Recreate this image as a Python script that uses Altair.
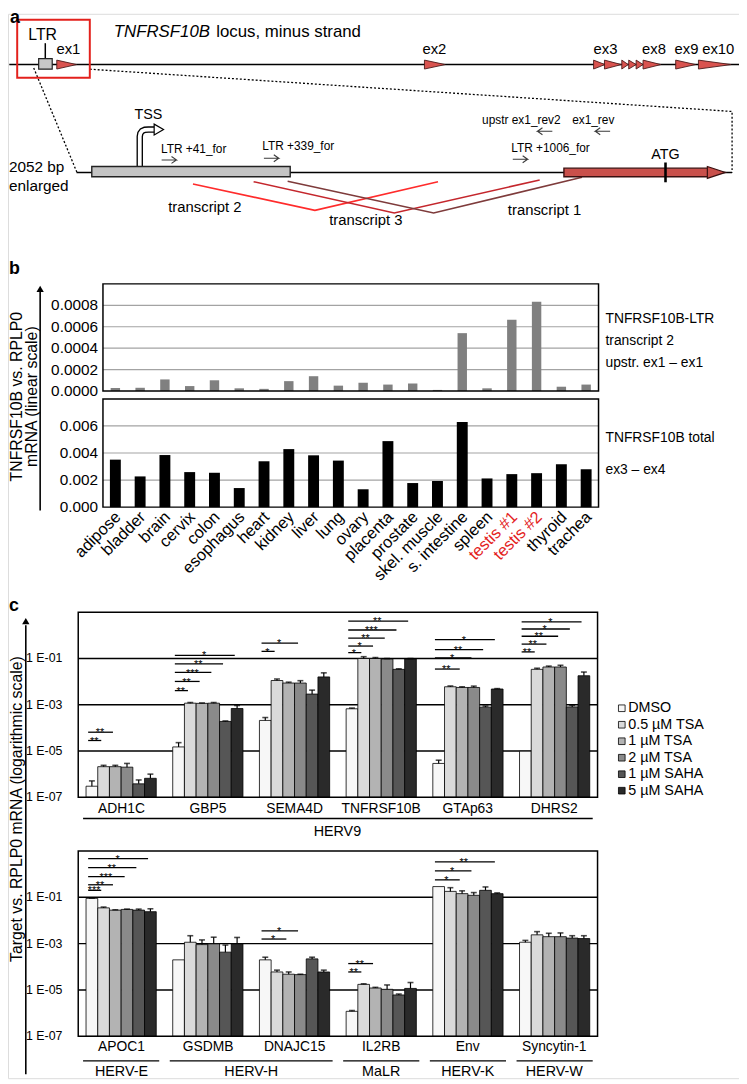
import altair as alt
import pandas as pd

FONT = "Liberation Sans, Arial, Helvetica, sans-serif"
W, H = 739, 1076
OFF = 8


def cx(v):
    return v - OFF


def cy(v):
    return v - OFF


# ------------------------------------------------------------------ panel a (schematic, diagram units)
top_exon_start = [57.3, 429, 600, 611, 628.5, 635.5, 643, 650, 683, 706]
top_exon_end = [77.3, 450, 611.5, 628, 635, 643, 650, 668, 703, 739]
exon_labels = ["ex1", "ex2", "ex3", "ex8", "ex9", "ex10"]
exon_label_x = [69, 439, 612, 661, 694, 726]

tr_names = ["transcript 2", "transcript 3", "transcript 1"]
tr_x = [[195, 318.3, 442.7], [256.3, 398.5, 545.5], [290.7, 438.3, 588.3]]
tr_y = [[180, 206.7, 177.7], [177.7, 209.3, 176], [177.3, 209.3, 173.3]]
tr_colors = ["#ff2b2b", "#c4262c", "#7e3b3b"]

primer_names = ["LTR +41_for", "LTR +339_for", "LTR +1006_for", "upstr ex1_rev2", "ex1_rev"]
primer_x = [162.7, 265, 516.7, 487.3, 578.3]
primer_y = [145, 141.7, 144, 115, 115]
primer_tail = [163.3, 266.7, 518.3, 558.3, 616.7]
primer_head = [178.3, 281.7, 533.3, 543.3, 601.7]
primer_arrow_y = [155.7, 154, 155, 126.7, 126.7]

PXS = alt.Scale(domain=[0, 747], range=[-OFF, 747 - OFF])
PYS = alt.Scale(domain=[0, 1084], range=[-OFF, 1084 - OFF])


def PX(f):
    return alt.X(f, type="quantitative", scale=PXS, axis=None)


def PY(f):
    return alt.Y(f, type="quantitative", scale=PYS, axis=None)


def txt(label, x, y, size=14, align="left", baseline="middle", angle=0,
        color="black", weight="normal", style="normal"):
    return alt.Chart(pd.DataFrame({"t": [label]})).mark_text(
        align=align, baseline=baseline, fontSize=size, angle=angle, color=color,
        fontWeight=weight, fontStyle=style, font=FONT
    ).encode(text="t:N", x=alt.value(cx(x)), y=alt.value(cy(y)))


def vrule(x, y0, y1, color="black", width=1.3):
    return alt.Chart(pd.DataFrame({"a": [0]})).mark_rule(color=color, strokeWidth=width).encode(
        x=alt.value(cx(x)), y=alt.value(cy(y0)), y2=alt.value(cy(y1)))


def frame(x0, x1, y0, y1, color="black", width=1.5):
    return alt.Chart(pd.DataFrame({"a": [0]})).mark_rect(
        fillOpacity=0, stroke=color, strokeWidth=width).encode(
        x=alt.value(cx(x0)), x2=alt.value(cx(x1)), y=alt.value(cy(y0)), y2=alt.value(cy(y1)))


def seg_chart(xs, ys, color="black", width=1.3, dash=None, interp="linear"):
    df = pd.DataFrame({"x": xs, "y": ys, "o": list(range(len(xs)))})
    kw = dict(color=color, strokeWidth=width, interpolate=interp)
    if dash:
        kw["strokeDash"] = dash
    return alt.Chart(df).mark_line(**kw).encode(x=PX("x"), y=PY("y"), order="o:Q")


TOP_Y = 59.3
LOW_Y = 168.3

layers = []

# dotted zoom lines
layers.append(seg_chart([34, 77.7], [62.7, LOW_Y], width=1.3, dash=[2, 2]))
layers.append(seg_chart([90.7, 740, 740], [64, 106.7, LOW_Y], width=1.3, dash=[2, 2]))
# genomic lines
layers.append(seg_chart([9.3, 747], [TOP_Y, TOP_Y], width=1.5))
layers.append(seg_chart([77.3, 740], [LOW_Y, LOW_Y], width=1.5))
# red highlight box
layers.append(frame(17.3, 90.7, 14, 72.7, color="#e3211c", width=2))
layers.append(vrule(45.7, 37.7, 53.3, width=1.5))

# exon triangles on the locus
ex_rows = []
for i, (a, b) in enumerate(zip(top_exon_start, top_exon_end)):
    ex_rows.append({"id": i, "x": a, "ya": TOP_Y - 4.5, "yb": TOP_Y + 4.5})
    ex_rows.append({"id": i, "x": b, "ya": TOP_Y, "yb": TOP_Y})
layers.append(alt.Chart(pd.DataFrame(ex_rows)).mark_area(
    fill="#d9534f", stroke="#4a1a1a", strokeWidth=0.9, orient="vertical").encode(
    x=PX("x"), y=PY("ya"), y2="yb:Q", detail="id:N"))

# small LTR box on locus
layers.append(alt.Chart(pd.DataFrame({"x0": [39], "x1": [52.7], "y0": [53.3], "y1": [64]})).mark_rect(
    fill="#c8c8c8", stroke="#222", strokeWidth=1.2).encode(x=PX("x0"), x2="x1:Q", y=PY("y0"), y2="y1:Q"))

# transcripts
for name, xs_, ys_, col in zip(tr_names, tr_x, tr_y, tr_colors):
    layers.append(seg_chart(xs_, ys_, color=col, width=1.6))

# primer arrows
for t, h, y in zip(primer_tail, primer_head, primer_arrow_y):
    d = 1 if h > t else -1
    layers.append(seg_chart([t, h, h - 5 * d, h, h - 5 * d], [y, y, y - 3.5, y, y + 3.5],
                            color="#3a3a3a", width=1.1))

# TSS bent arrow
tss_x = [141.2, 141.2, 141.8, 143.5, 146.3, 150, 157]
tss_y = [162.3, 132, 128.8, 126.5, 125.2, 125, 125]
layers.append(seg_chart(tss_x, tss_y, color="black", width=6.5))
layers.append(seg_chart(tss_x, tss_y, color="white", width=3.8))
layers.append(alt.Chart(pd.DataFrame({"x": [160.5], "y": [125]})).mark_point(
    shape="triangle-right", size=120, filled=True, fill="white", stroke="black",
    strokeWidth=1.2, opacity=1).encode(x=PX("x"), y=PY("y")))

# enlarged LTR and exon 1
layers.append(alt.Chart(pd.DataFrame({"x0": [92.7], "x1": [293.3], "y0": [162.3], "y1": [172.7]})).mark_rect(
    fill="#c4c4c4", stroke="#222", strokeWidth=1.4).encode(x=PX("x0"), x2="x1:Q", y=PY("y0"), y2="y1:Q"))
layers.append(alt.Chart(pd.DataFrame({"x0": [570], "x1": [716], "y0": [164], "y1": [172.7]})).mark_rect(
    fill="#c9504b", stroke="#3a1010", strokeWidth=1.4).encode(x=PX("x0"), x2="x1:Q", y=PY("y0"), y2="y1:Q"))
big_head = pd.DataFrame({"id": [0, 0], "x": [715, 733.3], "ya": [LOW_Y - 6, LOW_Y], "yb": [LOW_Y + 6, LOW_Y]})
layers.append(alt.Chart(big_head).mark_area(
    fill="#c9504b", stroke="#3a1010", strokeWidth=1.2, orient="vertical").encode(
    x=PX("x"), y=PY("ya"), y2="yb:Q", detail="id:N"))
layers.append(vrule(672.7, 158.3, 178.3, width=2.6))

# texts of panel a
layers.append(txt("a", 10, 17, size=18, weight="bold", baseline="alphabetic"))
layers.append(txt("LTR", 43, 29.3, size=16, align="center"))
layers.append(txt("TNFRSF10B", 115, 26.7, size=17, style="italic"))
layers.append(txt("locus, minus strand", 218.5, 26.7, size=17))
for lab, lx in zip(exon_labels, exon_label_x):
    layers.append(txt(lab, lx, 43.3, size=15, align="center"))
layers.append(txt("TSS", 150, 110, size=14.5, align="center"))
layers.append(txt("ATG", 672.7, 150.7, size=14.5, align="center"))
layers.append(txt("2052 bp", 9, 163.3, size=15.5))
layers.append(txt("enlarged", 9, 181.7, size=15.5))
for lab, lx, ly in zip(primer_names, primer_x, primer_y):
    layers.append(txt(lab, lx, ly, size=12))
layers.append(txt("transcript 2", 170, 203.3, size=15))
layers.append(txt("transcript 3", 332.7, 216, size=15))
layers.append(txt("transcript 1", 513.3, 206.7, size=15))

# ------------------------------------------------------------------ panel b
tissues = ["adipose", "bladder", "brain", "cervix", "colon", "esophagus", "heart", "kidney",
           "liver", "lung", "ovary", "placenta", "prostate", "skel. muscle", "s. intestine",
           "spleen", "testis #1", "testis #2", "thyroid", "trachea"]
ltr_transcript2 = [0.000028, 0.00003, 0.000108, 0.000046, 0.0001, 0.000025, 0.00002, 0.000092,
                   0.000138, 0.00005, 0.000077, 0.00006, 0.00007, 0.00001, 0.00054, 0.000025,
                   0.000665, 0.000834, 0.00004, 0.00006]
total_ex3_ex4 = [0.00351, 0.00227, 0.00385, 0.00259, 0.00254, 0.00141, 0.00339, 0.00429,
                 0.00383, 0.00344, 0.00132, 0.00488, 0.00178, 0.00193, 0.00629, 0.00212,
                 0.00244, 0.00251, 0.00317, 0.0028]
red_tissues = ["testis #1", "testis #2"]
b_top_ticks = [0.0, 0.0002, 0.0004, 0.0006, 0.0008]
b_top_tick_labels = ["0.0000", "0.0002", "0.0004", "0.0006", "0.0008"]
b_bot_ticks = [0.0, 0.002, 0.004, 0.006]
b_bot_tick_labels = ["0.000", "0.002", "0.004", "0.006"]

bdf = pd.DataFrame({"tissue": tissues, "ltr": ltr_transcript2, "total": total_ex3_ex4})
BX0, BX1 = 104, 605
bx_top = alt.Scale(domain=tissues, range=[cx(BX0), cx(BX1)], paddingInner=0.62, paddingOuter=0.31)
bx_bot = alt.Scale(domain=tissues, range=[cx(BX0), cx(BX1)], paddingInner=0.56, paddingOuter=0.28)
by_top = alt.Scale(domain=[0, 0.001], range=[cy(389.3), cy(281)], nice=False, zero=False)
by_bot = alt.Scale(domain=[0, 0.008], range=[cy(506.7), cy(397.3)], nice=False, zero=False)

for ticks, labels, ys in [(b_top_ticks, b_top_tick_labels, by_top), (b_bot_ticks, b_bot_tick_labels, by_bot)]:
    tdf = pd.DataFrame({"v": ticks, "lab": labels})
    layers.append(alt.Chart(tdf[tdf.v > 0]).mark_rule(color="#a3a3a3", strokeWidth=1.2).encode(
        x=alt.value(cx(BX0)), x2=alt.value(cx(BX1)), y=alt.Y("v:Q", scale=ys, axis=None)))
    layers.append(alt.Chart(tdf).mark_text(align="right", baseline="middle", fontSize=15.5, font=FONT).encode(
        x=alt.value(cx(99)), y=alt.Y("v:Q", scale=ys, axis=None), text="lab:N"))

layers.append(alt.Chart(bdf).mark_bar(color="#808080").encode(
    x=alt.X("tissue:N", scale=bx_top, axis=None), y=alt.Y("ltr:Q", scale=by_top, axis=None), y2=alt.datum(0)))
layers.append(alt.Chart(bdf).mark_bar(color="black").encode(
    x=alt.X("tissue:N", scale=bx_bot, axis=None), y=alt.Y("total:Q", scale=by_bot, axis=None), y2=alt.datum(0)))
layers.append(frame(BX0, BX1, 281, 389.3))
layers.append(frame(BX0, BX1, 397.3, 506.7))

red_expr = "indexof(" + str(red_tissues) + ", datum.tissue) >= 0"
for expr, col in [(red_expr, "#e3211c"), ("!(" + red_expr + ")", "black")]:
    layers.append(alt.Chart(bdf).transform_filter(expr).mark_text(
        align="right", baseline="middle", angle=315, fontSize=16.5, dx=4, color=col, font=FONT).encode(
        x=alt.X("tissue:N", scale=bx_bot, axis=None), y=alt.value(cy(517)), text="tissue:N"))

layers.append(txt("b", 9, 271, size=18, weight="bold", baseline="alphabetic"))
layers.append(txt("TNFRSF10B-LTR", 612, 317, size=14))
layers.append(txt("transcript  2", 612, 339, size=14))
layers.append(txt("upstr. ex1 \u2013 ex1", 612, 361, size=14))
layers.append(txt("TNFRSF10B total", 612, 437, size=14))
layers.append(txt("ex3 \u2013 ex4", 612, 469, size=14))
layers.append(txt("TNFRSF10B vs. RPLP0", 17, 395, size=16, align="center", angle=270))
layers.append(txt("mRNA (linear scale)", 32, 395, size=16, align="center", angle=270))
layers.append(vrule(40.5, 510, 289, width=1.6))
layers.append(alt.Chart(pd.DataFrame({"a": [0]})).mark_point(
    shape="triangle-up", size=55, filled=True, color="black", opacity=1).encode(
    x=alt.value(cx(40.5)), y=alt.value(cy(286))))

# ------------------------------------------------------------------ panel c
treatments = ["DMSO", "0.5 \u00b5M TSA", "1 \u00b5M TSA", "2 \u00b5M TSA", "1 \u00b5M SAHA", "5 \u00b5M SAHA"]
treat_colors = ["#f7f7f7", "#dadada", "#b3b3b3", "#8a8a8a", "#565656", "#2a2a2a"]
c_ticks = [1e-7, 1e-5, 1e-3, 1e-1]
c_tick_labels = ["1 E-07", "1 E-05", "1 E-03", "1 E-01"]

genes_herv9 = ["ADH1C", "GBP5", "SEMA4D", "TNFRSF10B", "GTAp63", "DHRS2"]
mean_herv9 = [
    [3.0e-7, 2.1e-6, 2.1e-6, 2.0e-6, 3.8e-7, 6.6e-7],
    [1.5e-5, 1.17e-3, 1.15e-3, 1.17e-3, 1.9e-4, 6.9e-4],
    [2.1e-4, 1.12e-2, 8.7e-3, 8.7e-3, 2.9e-3, 1.6e-2],
    [6.7e-4, 0.1, 0.1, 0.095, 3.4e-2, 0.095],
    [2.9e-6, 6.0e-3, 5.6e-3, 5.6e-3, 7.9e-4, 4.8e-3],
    [9.8e-6, 3.4e-2, 4.3e-2, 4.3e-2, 8.1e-4, 1.8e-2],
]
upper_herv9 = [
    [5.1e-7, 2.4e-6, 2.4e-6, 2.9e-6, 5.6e-7, 1.0e-6],
    [2.3e-5, 1.25e-3, 1.2e-3, 1.25e-3, 2.0e-4, 9.3e-4],
    [2.8e-4, 1.3e-2, 9.5e-3, 1.1e-2, 4.3e-3, 2.4e-2],
    [7.2e-4, 0.12, 0.11, 0.1, 3.6e-2, 0.1],
    [4.0e-6, 6.5e-3, 6.0e-3, 6.4e-3, 8.8e-4, 5.0e-3],
    [9.8e-6, 3.8e-2, 4.7e-2, 5.1e-2, 9.4e-4, 2.6e-2],
]
sig_herv9_gene = ["ADH1C", "ADH1C", "GBP5", "GBP5", "GBP5", "GBP5", "GBP5", "SEMA4D", "SEMA4D",
                  "TNFRSF10B", "TNFRSF10B", "TNFRSF10B", "TNFRSF10B", "TNFRSF10B",
                  "GTAp63", "GTAp63", "GTAp63", "GTAp63",
                  "DHRS2", "DHRS2", "DHRS2", "DHRS2", "DHRS2"]
sig_herv9_k = [1, 2, 1, 2, 3, 4, 5, 1, 3, 1, 2, 3, 4, 5, 2, 3, 4, 5, 1, 2, 3, 4, 5]
sig_herv9_stars = ["**", "**", "**", "**", "***", "**", "*", "*", "*", "*", "*", "**", "***", "**",
                   "**", "*", "**", "*", "**", "**", "**", "*", "*"]
sig_herv9_y = [2.85e-5, 6.5e-5, 4.1e-3, 1.02e-2, 2.5e-2, 5.9e-2, 0.138, 0.204, 0.466,
               0.18, 0.346, 0.76, 1.71, 4.14, 3.5e-2, 0.107, 0.24, 0.66,
               0.193, 0.42, 0.92, 1.89, 3.86]

genes_other = ["APOC1", "GSDMB", "DNAJC15", "IL2RB", "Env", "Syncytin-1"]
mean_other = [
    [0.09, 0.035, 0.028, 0.030, 0.028, 0.024],
    [2.0e-4, 1.15e-3, 9.1e-4, 9.8e-4, 4.3e-4, 9.8e-4],
    [2.0e-4, 6.0e-5, 4.8e-5, 4.6e-5, 2.2e-4, 6.0e-5],
    [1.2e-6, 1.75e-5, 1.22e-5, 1.07e-5, 6.1e-6, 1.17e-5],
    [0.29, 0.18, 0.144, 0.122, 0.20, 0.144],
    [1.15e-3, 2.4e-3, 2.0e-3, 2.0e-3, 1.74e-3, 1.66e-3],
]
upper_other = [
    [0.092, 0.038, 0.029, 0.031, 0.031, 0.032],
    [2.0e-4, 2.2e-3, 1.45e-3, 1.9e-3, 8.7e-4, 1.85e-3],
    [2.6e-4, 7.2e-5, 6.0e-5, 4.8e-5, 2.6e-4, 7.2e-5],
    [1.3e-6, 1.85e-5, 1.3e-5, 1.65e-5, 6.7e-6, 2.1e-5],
    [0.29, 0.26, 0.19, 0.16, 0.28, 0.155],
    [1.38e-3, 3.3e-3, 2.8e-3, 2.9e-3, 2.2e-3, 2.2e-3],
]
sig_other_gene = ["APOC1", "APOC1", "APOC1", "APOC1", "APOC1", "DNAJC15", "DNAJC15",
                  "IL2RB", "IL2RB", "Env", "Env", "Env"]
sig_other_k = [1, 2, 3, 4, 5, 2, 3, 1, 2, 2, 3, 5]
sig_other_stars = ["***", "**", "***", "**", "*", "*", "*", "**", "**", "*", "*", "**"]
sig_other_y = [0.2, 0.347, 0.78, 1.89, 4.7, 1.58e-3, 3.56e-3, 6.0e-5, 1.38e-4, 0.566, 1.37, 3.39]

family_names = ["HERV-E", "HERV-H", "MaLR", "HERV-K", "HERV-W"]
family_first = ["APOC1", "GSDMB", "IL2RB", "Env", "Syncytin-1"]
family_last = ["APOC1", "DNAJC15", "IL2RB", "Env", "Syncytin-1"]
family_span = [1, 2, 1, 1, 1]

CX0, CX1 = 79, 604
P_IN, P_OUT = 0.19, 0.09
C_STEP = (CX1 - CX0) / (6 - P_IN + 2 * P_OUT)
C_BW = C_STEP * (1 - P_IN)
C_GAP = C_STEP * P_IN


def panel_c(genes, means, uppers, sg, sk, ss, sy, y_top, y_bot, label_y):
    out = []
    xs = alt.Scale(domain=genes, range=[cx(CX0), cx(CX1)], paddingInner=P_IN, paddingOuter=P_OUT)
    ys = alt.Scale(type="log", domain=[1e-7, 10], range=[cy(y_bot), cy(y_top)], nice=False)
    offs = alt.Scale(domain=treatments, paddingInner=0, paddingOuter=0)
    rows = []
    for g, m, u in zip(genes, means, uppers):
        for t, v, e in zip(treatments, m, u):
            rows.append({"gene": g, "treatment": t, "value": v, "upper": e})
    df = pd.DataFrame(rows)
    X = alt.X("gene:N", scale=xs, axis=None)
    XO = alt.XOffset("treatment:N", scale=offs, sort=treatments)
    tdf = pd.DataFrame({"v": c_ticks, "lab": c_tick_labels})
    out.append(alt.Chart(tdf[tdf.v > 1e-7]).mark_rule(color="black", strokeWidth=1.4).encode(
        x=alt.value(cx(CX0)), x2=alt.value(cx(CX1)), y=alt.Y("v:Q", scale=ys, axis=None)))
    out.append(alt.Chart(tdf).mark_text(align="right", baseline="middle", fontSize=12.5, font=FONT).encode(
        x=alt.value(cx(63)), y=alt.Y("v:Q", scale=ys, axis=None), text="lab:N"))
    out.append(alt.Chart(df).mark_bar(stroke="black", strokeWidth=0.8).encode(
        x=X, xOffset=XO, y=alt.Y("value:Q", scale=ys, axis=None), y2=alt.datum(1e-7),
        fill=alt.Fill("treatment:N", scale=alt.Scale(domain=treatments, range=treat_colors), legend=None)))
    edf = df[df.upper > df.value * 1.02]
    out.append(alt.Chart(edf).mark_rule(color="black", strokeWidth=1.2).encode(
        x=X, xOffset=XO, y=alt.Y("value:Q", scale=ys, axis=None), y2="upper:Q"))
    out.append(alt.Chart(edf).mark_tick(color="black", orient="horizontal", size=6, thickness=1.6).encode(
        x=X, xOffset=XO, y=alt.Y("upper:Q", scale=ys, axis=None)))
    sdf = pd.DataFrame({"gene": sg, "k": sk, "stars": ss, "y": sy})
    for k in range(1, 6):
        d = sdf[sdf.k == k]
        if d.empty:
            continue
        out.append(alt.Chart(d).mark_rule(
            color="black", strokeWidth=1.3,
            xOffset=(0.03 - 0.5) * C_BW, x2Offset=((k + 0.3) / 6 - 0.5) * C_BW).encode(
            x=alt.X("gene:N", scale=xs, axis=None, bandPosition=0.5),
            x2=alt.X2("gene:N", bandPosition=0.5),
            y=alt.Y("y:Q", scale=ys, axis=None)))
        out.append(alt.Chart(d).mark_text(
            fontSize=11, baseline="alphabetic", dy=4.2, font=FONT,
            dx=((k + 0.33) / 12 - 0.5) * C_BW).encode(
            x=alt.X("gene:N", scale=xs, axis=None),
            y=alt.Y("y:Q", scale=ys, axis=None), text="stars:N"))
    out.append(frame(CX0, CX1, y_top, y_bot))
    out.append(alt.Chart(pd.DataFrame({"gene": genes})).mark_text(fontSize=14, baseline="middle", font=FONT).encode(
        x=alt.X("gene:N", scale=xs, axis=None), y=alt.value(cy(label_y)), text="gene:N"))
    return out, xs


lay_top, xs_top = panel_c(genes_herv9, mean_herv9, upper_herv9, sig_herv9_gene, sig_herv9_k,
                          sig_herv9_stars, sig_herv9_y, 613, 800, 811.7)
lay_bot, xs_bot = panel_c(genes_other, mean_other, upper_other, sig_other_gene, sig_other_k,
                          sig_other_stars, sig_other_y, 854.3, 1041.7, 1053)
layers += lay_top + lay_bot

# HERV9 family line
h9 = pd.DataFrame({"first": [genes_herv9[0]], "last": [genes_herv9[-1]], "name": ["HERV9"]})
layers.append(alt.Chart(h9).mark_rule(color="black", strokeWidth=1.3, xOffset=-3, x2Offset=3).encode(
    x=alt.X("first:N", scale=xs_top, axis=None, bandPosition=0),
    x2=alt.X2("last:N", bandPosition=1), y=alt.value(cy(821.5))))
layers.append(txt("HERV9", 341, 835, size=14.5, align="center"))

fam = pd.DataFrame({"name": family_names, "first": family_first, "last": family_last, "span": family_span})
layers.append(alt.Chart(fam).mark_rule(color="black", strokeWidth=1.3, xOffset=-3, x2Offset=3).encode(
    x=alt.X("first:N", scale=xs_bot, axis=None, bandPosition=0),
    x2=alt.X2("last:N", bandPosition=1), y=alt.value(cy(1066.5))))
layers.append(alt.Chart(fam[fam.span == 1]).mark_text(fontSize=14.5, baseline="middle", font=FONT).encode(
    x=alt.X("first:N", scale=xs_bot, axis=None),
    y=alt.value(cy(1078)), text="name:N"))
layers.append(alt.Chart(fam[fam.span == 2]).mark_text(fontSize=14.5, baseline="middle", font=FONT,
                                                     dx=-(C_BW + C_GAP) / 2).encode(
    x=alt.X("last:N", scale=xs_bot, axis=None),
    y=alt.value(cy(1078)), text="name:N"))

# legend
ldf = pd.DataFrame({"treatment": treatments})
leg_y = alt.Scale(domain=treatments, range=[cy(701.7), cy(801.7)])
layers.append(alt.Chart(ldf).mark_square(size=45, stroke="black", strokeWidth=0.8, opacity=1).encode(
    x=alt.value(cx(628.5)), y=alt.Y("treatment:N", scale=leg_y, axis=None, sort=treatments),
    fill=alt.Fill("treatment:N", scale=alt.Scale(domain=treatments, range=treat_colors), legend=None)))
layers.append(alt.Chart(ldf).mark_text(align="left", baseline="middle", fontSize=14.5, font=FONT).encode(
    x=alt.value(cx(635)), y=alt.Y("treatment:N", scale=leg_y, axis=None, sort=treatments), text="treatment:N"))

# axis title + arrow for panel c
layers.append(txt("c", 9, 612, size=18, weight="bold", baseline="alphabetic"))
layers.append(txt("Target vs. RPLP0 mRNA (logarithmic scale)", 17.5, 812, size=16, align="center", angle=270))
layers.append(vrule(26, 1080, 626, width=1.6))
layers.append(alt.Chart(pd.DataFrame({"a": [0]})).mark_point(
    shape="triangle-up", size=55, filled=True, color="black", opacity=1).encode(
    x=alt.value(cx(26)), y=alt.value(cy(622))))

chart = alt.layer(*layers).resolve_scale(
    x="independent", y="independent", fill="independent", xOffset="independent"
).properties(
    width=W, height=H, padding=0, autosize=alt.AutoSizeParams(type="none")
).configure_view(strokeWidth=0).configure(font=FONT)

chart.save("out.html", embed_options={"renderer": "svg", "actions": False})
